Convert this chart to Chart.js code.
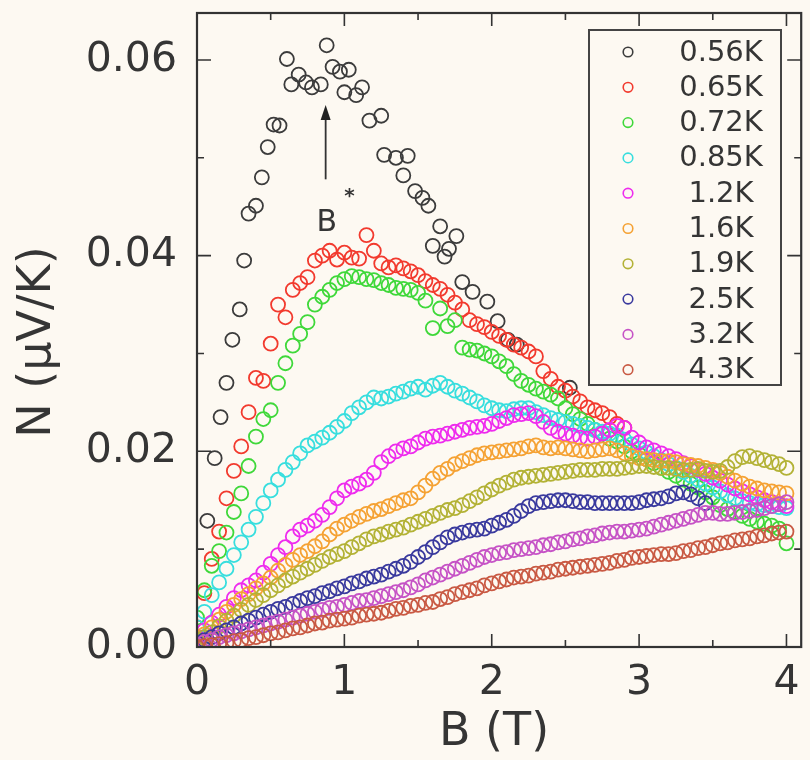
<!DOCTYPE html>
<html>
<head>
<meta charset="utf-8">
<title>N (B)</title>
<script src="https://cdn.jsdelivr.net/npm/chart.js@4.4.1/dist/chart.umd.min.js"></script>
<style>
  html, body { margin: 0; padding: 0; background: #fdf9f2; }
  canvas { display: block; }
</style>
</head>
<body>
<canvas id="nernst" width="810" height="760"></canvas>
<script>
// temperaturas de la leyenda y colores de cada serie
const temps = ['0.56K', '0.65K', '0.72K', '0.85K', '1.2K', '1.6K', '1.9K', '2.5K', '3.2K', '4.3K'];
const colors = ['#3c3c3c', '#f23a2e', '#3fd83a', '#38dede', '#ee2cee', '#f5a234', '#b3b236', '#3a3a9e', '#c653c6', '#c95a44'];

const bTicks = [0, 1, 2, 3, 4];
const nTicks = [0, 0.02, 0.04, 0.06];

// campo B (T) comun a las series densas
const field = [
  0.00, 0.05, 0.10, 0.15, 0.20, 0.25, 0.30, 0.35, 0.40, 0.45,
  0.50, 0.55, 0.60, 0.65, 0.70, 0.75, 0.80, 0.85, 0.90, 0.95,
  1.00, 1.05, 1.10, 1.15, 1.20, 1.25, 1.30, 1.35, 1.40, 1.45,
  1.50, 1.55, 1.60, 1.65, 1.70, 1.75, 1.80, 1.85, 1.90, 1.95,
  2.00, 2.05, 2.10, 2.15, 2.20, 2.25, 2.30, 2.35, 2.40, 2.45,
  2.50, 2.55, 2.60, 2.65, 2.70, 2.75, 2.80, 2.85, 2.90, 2.95,
  3.00, 3.05, 3.10, 3.15, 3.20, 3.25, 3.30, 3.35, 3.40, 3.45,
  3.50, 3.55, 3.60, 3.65, 3.70, 3.75, 3.80, 3.85, 3.90, 3.95,
  4.00
];

// 0.56K: puntos sueltos
const b056 = [
  0.07, 0.12, 0.16, 0.20, 0.24, 0.29, 0.32, 0.35, 0.40, 0.44,
  0.48, 0.52, 0.56, 0.61, 0.64, 0.69, 0.74, 0.78, 0.84, 0.88,
  0.92, 0.97, 1.00, 1.03, 1.08, 1.12, 1.17, 1.25, 1.27, 1.35,
  1.40, 1.43, 1.48, 1.53, 1.57, 1.60, 1.65, 1.68, 1.71, 1.76,
  1.80, 1.87, 1.97, 2.04, 2.11, 2.17, 2.53
];
const n056 = [
  0.0129, 0.0193, 0.0235, 0.0270, 0.0314, 0.0345, 0.0395, 0.0443, 0.0451, 0.0480,
  0.0511, 0.0534, 0.0533, 0.0601, 0.0575, 0.0585, 0.0577, 0.0572, 0.0575, 0.0615,
  0.0593, 0.0588, 0.0567, 0.0590, 0.0564, 0.0572, 0.0538, 0.0543, 0.0503, 0.0500,
  0.0482, 0.0502, 0.0466, 0.0459, 0.0451, 0.0410, 0.0430, 0.0399, 0.0407, 0.0420,
  0.0373, 0.0363, 0.0353, 0.0333, 0.0314, 0.0309, 0.0265
];

const n065 = [
  0.0020, 0.0055, 0.0090, 0.0118, 0.0152, 0.0180, 0.0205, 0.0240, 0.0275, 0.0272,
  0.0310, 0.0350, 0.0337, 0.0365, 0.0372, 0.0378, 0.0395, 0.0400, 0.0405, 0.0396,
  0.0403, 0.0398, 0.0397, 0.0421, 0.0405, 0.0392, 0.0388, 0.0390, 0.0387, 0.0384,
  0.0380, 0.0374, 0.0370, 0.0366, 0.0360, 0.0352, 0.0345, 0.0334, 0.0330, 0.0327,
  0.0322, 0.0318, 0.0314, 0.0309, 0.0306, 0.0302, 0.0297, 0.0282, 0.0274, 0.0266,
  0.0262, 0.0256, 0.0251, 0.0245, 0.0242, 0.0239, 0.0235, 0.0228, 0.0224
];
const n072 = [
  0.0030, 0.0058, 0.0083, 0.0098, 0.0117, 0.0138, 0.0157, 0.0185, 0.0215, 0.0233,
  0.0242, 0.0270, 0.0290, 0.0308, 0.0320, 0.0332, 0.0350, 0.0358, 0.0365, 0.0372,
  0.0376, 0.0379, 0.0378, 0.0376, 0.0375, 0.0372, 0.0370, 0.0367, 0.0366, 0.0365,
  0.0362, 0.0354, 0.0326, 0.0346, 0.0328, 0.0334, 0.0306, 0.0304, 0.0303, 0.0300,
  0.0297, 0.0292, 0.0287, 0.0279, 0.0272, 0.0268, 0.0264, 0.0261, 0.0258, 0.0254,
  0.0244, 0.0238, 0.0233, 0.0228, 0.0222, 0.0218, 0.0213, 0.0210, 0.0205, 0.0200,
  0.0197, 0.0192, 0.0188, 0.0183, 0.0179, 0.0175, 0.0171, 0.0167, 0.0163, 0.0158,
  0.0153, 0.0145, 0.0141, 0.0138, 0.0134, 0.0131, 0.0128, 0.0126, 0.0124, 0.0121,
  0.0106
];
const n085 = [
  0.0020, 0.0036, 0.0053, 0.0066, 0.0080, 0.0094, 0.0107, 0.0120, 0.0133, 0.0147,
  0.0160, 0.0171, 0.0181, 0.0189, 0.0198, 0.0206, 0.0210, 0.0214, 0.0219, 0.0225,
  0.0231, 0.0239, 0.0245, 0.0250, 0.0255, 0.0254, 0.0256, 0.0259, 0.0261, 0.0264,
  0.0266, 0.0263, 0.0267, 0.0270, 0.0266, 0.0262, 0.0259, 0.0255, 0.0251, 0.0247,
  0.0244, 0.0242, 0.0241, 0.0243, 0.0244, 0.0244, 0.0240, 0.0237, 0.0234, 0.0232,
  0.0230, 0.0228, 0.0226, 0.0224, 0.0222, 0.0220, 0.0218, 0.0216, 0.0212, 0.0207,
  0.0203, 0.0199, 0.0195, 0.0191, 0.0187, 0.0183, 0.0179, 0.0175, 0.0171, 0.0167,
  0.0163, 0.0159, 0.0155, 0.0152, 0.0149, 0.0147, 0.0146, 0.0145, 0.0144, 0.0143,
  0.0142
];
const n12 = [
  0.0010, 0.0017, 0.0025, 0.0033, 0.0041, 0.0050, 0.0058, 0.0063, 0.0068, 0.0076,
  0.0085, 0.0094, 0.0102, 0.0113, 0.0120, 0.0124, 0.0129, 0.0135, 0.0143, 0.0152,
  0.0160, 0.0164, 0.0167, 0.0171, 0.0178, 0.0189, 0.0195, 0.0200, 0.0203, 0.0205,
  0.0209, 0.0213, 0.0215, 0.0216, 0.0218, 0.0220, 0.0222, 0.0224, 0.0225, 0.0226,
  0.0228, 0.0231, 0.0234, 0.0237, 0.0238, 0.0239, 0.0236, 0.0230, 0.0224, 0.0220,
  0.0218, 0.0216, 0.0214, 0.0213, 0.0215, 0.0218, 0.0222, 0.0226, 0.0224, 0.0214,
  0.0209, 0.0204, 0.0201, 0.0198, 0.0195, 0.0192, 0.0188, 0.0185, 0.0181, 0.0177,
  0.0173, 0.0170, 0.0166, 0.0162, 0.0159, 0.0156, 0.0153, 0.0150, 0.0148, 0.0146,
  0.0144
];
const n16 = [
  0.0008, 0.0013, 0.0020, 0.0028, 0.0036, 0.0043, 0.0049, 0.0054, 0.0060, 0.0065,
  0.0071, 0.0078, 0.0084, 0.0089, 0.0094, 0.0098, 0.0103, 0.0108, 0.0115, 0.0121,
  0.0125, 0.0129, 0.0133, 0.0136, 0.0139, 0.0141, 0.0144, 0.0147, 0.0150, 0.0152,
  0.0158, 0.0165, 0.0172, 0.0178, 0.0182, 0.0187, 0.0190, 0.0193, 0.0196, 0.0198,
  0.0199, 0.0200, 0.0201, 0.0202, 0.0203, 0.0205, 0.0206, 0.0204, 0.0203, 0.0204,
  0.0203, 0.0202, 0.0201, 0.0200, 0.0201, 0.0202, 0.0203, 0.0201, 0.0198, 0.0195,
  0.0193, 0.0192, 0.0191, 0.0190, 0.0190, 0.0189, 0.0187, 0.0186, 0.0185, 0.0183,
  0.0181, 0.0178, 0.0174, 0.0170, 0.0167, 0.0164, 0.0162, 0.0160, 0.0159, 0.0158,
  0.0157
];
const n19 = [
  0.0006, 0.0010, 0.0015, 0.0021, 0.0027, 0.0032, 0.0038, 0.0043, 0.0048, 0.0053,
  0.0058, 0.0063, 0.0068, 0.0072, 0.0076, 0.0080, 0.0084, 0.0088, 0.0092, 0.0095,
  0.0098, 0.0102, 0.0106, 0.0110, 0.0113, 0.0115, 0.0118, 0.0120, 0.0122, 0.0125,
  0.0128, 0.0131, 0.0134, 0.0137, 0.0140, 0.0142, 0.0145, 0.0149, 0.0153, 0.0157,
  0.0161, 0.0165, 0.0168, 0.0171, 0.0173, 0.0174, 0.0175, 0.0176, 0.0177, 0.0178,
  0.0179, 0.0180, 0.0181, 0.0181, 0.0181, 0.0182, 0.0182, 0.0182, 0.0183, 0.0184,
  0.0185, 0.0185, 0.0184, 0.0183, 0.0183, 0.0182, 0.0181, 0.0181, 0.0182, 0.0180,
  0.0179, 0.0180, 0.0184, 0.0190, 0.0194, 0.0195, 0.0193, 0.0191, 0.0189, 0.0187,
  0.0183
];
const n25 = [
  0.0004, 0.0007, 0.0010, 0.0014, 0.0017, 0.0020, 0.0024, 0.0027, 0.0030, 0.0033,
  0.0036, 0.0039, 0.0041, 0.0044, 0.0047, 0.0050, 0.0052, 0.0055, 0.0057, 0.0060,
  0.0062, 0.0065, 0.0067, 0.0070, 0.0072, 0.0074, 0.0077, 0.0080, 0.0083, 0.0087,
  0.0092, 0.0097, 0.0102, 0.0107, 0.0112, 0.0115, 0.0117, 0.0119, 0.0120, 0.0121,
  0.0124, 0.0127, 0.0130, 0.0134, 0.0139, 0.0144, 0.0147, 0.0148, 0.0149, 0.0150,
  0.0150, 0.0149, 0.0148, 0.0148, 0.0147, 0.0147, 0.0147, 0.0147, 0.0147, 0.0147,
  0.0148, 0.0150, 0.0151, 0.0152, 0.0154, 0.0157, 0.0158, 0.0156, 0.0152, 0.0147
];
const n32 = [
  0.0002, 0.0005, 0.0007, 0.0010, 0.0012, 0.0014, 0.0016, 0.0018, 0.0020, 0.0022,
  0.0024, 0.0026, 0.0028, 0.0030, 0.0032, 0.0034, 0.0036, 0.0038, 0.0040, 0.0041,
  0.0043, 0.0045, 0.0047, 0.0048, 0.0050, 0.0052, 0.0054, 0.0056, 0.0058, 0.0061,
  0.0064, 0.0068, 0.0071, 0.0074, 0.0077, 0.0080, 0.0083, 0.0086, 0.0089, 0.0092,
  0.0094, 0.0096, 0.0097, 0.0099, 0.0100, 0.0101, 0.0102, 0.0104, 0.0105, 0.0107,
  0.0108, 0.0110, 0.0111, 0.0113, 0.0114, 0.0116, 0.0117, 0.0118, 0.0118, 0.0119,
  0.0120, 0.0121, 0.0123, 0.0125, 0.0127, 0.0129, 0.0131, 0.0133, 0.0135, 0.0137,
  0.0137, 0.0136, 0.0136, 0.0137, 0.0138, 0.0139, 0.0140, 0.0142, 0.0144, 0.0146,
  0.0148
];
const n43 = [
  0.0000, 0.0001, 0.0002, 0.0003, 0.0004, 0.0006, 0.0007, 0.0009, 0.0010, 0.0012,
  0.0014, 0.0015, 0.0017, 0.0019, 0.0020, 0.0022, 0.0024, 0.0025, 0.0027, 0.0028,
  0.0029, 0.0030, 0.0032, 0.0033, 0.0034, 0.0035, 0.0037, 0.0039, 0.0040, 0.0042,
  0.0043, 0.0045, 0.0046, 0.0049, 0.0051, 0.0054, 0.0056, 0.0058, 0.0060, 0.0063,
  0.0065, 0.0067, 0.0069, 0.0071, 0.0072, 0.0073, 0.0075, 0.0076, 0.0077, 0.0079,
  0.0080, 0.0081, 0.0082, 0.0083, 0.0084, 0.0085, 0.0086, 0.0088, 0.0089, 0.0091,
  0.0092, 0.0093, 0.0094, 0.0095, 0.0095, 0.0096, 0.0098, 0.0099, 0.0101, 0.0102,
  0.0104, 0.0106, 0.0107, 0.0109, 0.0110, 0.0111, 0.0113, 0.0114, 0.0116, 0.0117,
  0.0118
];

const TEXT = '#353535';
const FONT = '"DejaVu Sans", "Liberation Sans", sans-serif';

function pts(xs, ys) {
  return ys.map((y, i) => ({ x: xs[i], y: y }));
}

const series = [
  pts(b056, n056), pts(field, n065), pts(field, n072), pts(field, n085), pts(field, n12),
  pts(field, n16), pts(field, n19), pts(field, n25), pts(field, n32), pts(field, n43)
];

// fondo crema
const paper = {
  id: 'paper',
  beforeDraw(chart) {
    const ctx = chart.ctx;
    ctx.save();
    ctx.fillStyle = '#fdf9f2';
    ctx.fillRect(0, 0, chart.width, chart.height);
    ctx.restore();
  }
};

// marco, ticks hacia dentro, titulos, leyenda y la flecha B*
const decor = {
  id: 'decor',
  afterDraw(chart) {
    const ctx = chart.ctx;
    const a = chart.chartArea;
    const x = chart.scales.x, y = chart.scales.y;
    ctx.save();
    ctx.strokeStyle = '#333';
    ctx.lineWidth = 1.6;
    ctx.beginPath();
    x.ticks.forEach(t => {
      const px = x.getPixelForValue(t.value);
      const len = bTicks.includes(t.value) ? 13 : 7;
      ctx.moveTo(px, a.bottom); ctx.lineTo(px, a.bottom - len);
      ctx.moveTo(px, a.top); ctx.lineTo(px, a.top + len);
    });
    y.ticks.forEach(t => {
      const py = y.getPixelForValue(t.value);
      const major = nTicks.some(v => Math.abs(v - t.value) < 1e-6);
      const len = major ? 14 : 7;
      ctx.moveTo(a.left, py); ctx.lineTo(a.left + len, py);
      ctx.moveTo(a.right, py); ctx.lineTo(a.right - len, py);
    });
    ctx.stroke();
    ctx.lineWidth = 2.2;
    ctx.strokeRect(a.left, a.top, a.right - a.left, a.bottom - a.top);

    // titulos de ejes
    ctx.fillStyle = TEXT;
    ctx.textAlign = 'center';
    ctx.textBaseline = 'middle';
    ctx.font = '46px ' + FONT;
    ctx.fillText('B (T)', 494, 733);
    ctx.save();
    ctx.translate(38, 342);
    ctx.rotate(-Math.PI / 2);
    ctx.fillText('N (\u03bcV/K)', 0, 0);
    ctx.restore();

    // flecha y etiqueta B*
    const ax = x.getPixelForValue(0.873);
    const ay0 = y.getPixelForValue(0.0478);
    const ay1 = y.getPixelForValue(0.0554);
    ctx.lineWidth = 1.8;
    ctx.beginPath();
    ctx.moveTo(ax, ay0); ctx.lineTo(ax, ay1 + 12);
    ctx.stroke();
    ctx.fillStyle = '#222';
    ctx.beginPath();
    ctx.moveTo(ax, ay1); ctx.lineTo(ax - 5, ay1 + 15); ctx.lineTo(ax + 5, ay1 + 15);
    ctx.closePath();
    ctx.fill();
    ctx.fillStyle = TEXT;
    ctx.font = '30px ' + FONT;
    ctx.fillText('B', x.getPixelForValue(0.88), y.getPixelForValue(0.0433));
    ctx.font = 'bold 20px ' + FONT;
    ctx.fillText('*', x.getPixelForValue(1.035), y.getPixelForValue(0.0460));

    // leyenda
    const lx = 589, ly = 30, lw = 192, lh = 355;
    ctx.fillStyle = '#fdf9f2';
    ctx.fillRect(lx, ly, lw, lh);
    ctx.strokeStyle = '#444';
    ctx.lineWidth = 2;
    ctx.strokeRect(lx, ly, lw, lh);
    ctx.font = '29px ' + FONT;
    temps.forEach((t, i) => {
      const ry = ly + 22 + i * 35.3;
      ctx.strokeStyle = colors[i];
      ctx.lineWidth = 1.6;
      ctx.beginPath();
      ctx.arc(lx + 39, ry, 4.8, 0, Math.PI * 2);
      ctx.stroke();
      ctx.fillStyle = TEXT;
      ctx.fillText(t, lx + 132, ry + 1);
    });
    ctx.restore();
  }
};

// sin margenes extra de las etiquetas: el area del grafico la fija layout.padding
function noPad(scale) {
  scale.paddingTop = 0;
  scale.paddingBottom = 0;
  scale.paddingLeft = 0;
  scale.paddingRight = 0;
}

new Chart(document.getElementById('nernst'), {
  type: 'scatter',
  data: {
    datasets: series.map((d, i) => ({
      label: temps[i],
      data: d,
      order: 10 - i,
      borderColor: colors[i],
      backgroundColor: 'rgba(0,0,0,0)',
      pointRadius: 7,
      pointBorderWidth: 1.8,
      pointHoverRadius: 7,
      showLine: false
    }))
  },
  options: {
    responsive: false,
    animation: false,
    layout: { padding: { left: 0, right: 7, top: 13, bottom: 0 } },
    plugins: {
      legend: { display: false },
      tooltip: { enabled: false }
    },
    scales: {
      x: {
        type: 'linear',
        min: 0,
        max: 4.1,
        grid: { display: false, drawTicks: false },
        border: { display: false },
        afterFit(scale) { scale.height = 113; noPad(scale); },
        ticks: {
          stepSize: 0.5,
          autoSkip: false,
          includeBounds: false,
          maxRotation: 0,
          padding: 12,
          color: TEXT,
          font: { family: FONT, size: 41 },
          callback: v => bTicks.includes(v) ? String(v) : ''
        }
      },
      y: {
        type: 'linear',
        min: 0,
        max: 0.0648,
        grid: { display: false, drawTicks: false },
        border: { display: false },
        afterFit(scale) { scale.width = 197; noPad(scale); },
        ticks: {
          stepSize: 0.01,
          autoSkip: false,
          includeBounds: false,
          padding: 20,
          color: TEXT,
          font: { family: FONT, size: 41 },
          callback: v => nTicks.some(n => Math.abs(n - v) < 1e-6) ? v.toFixed(2) : ''
        }
      }
    }
  },
  plugins: [paper, decor]
});
</script>
</body>
</html>
